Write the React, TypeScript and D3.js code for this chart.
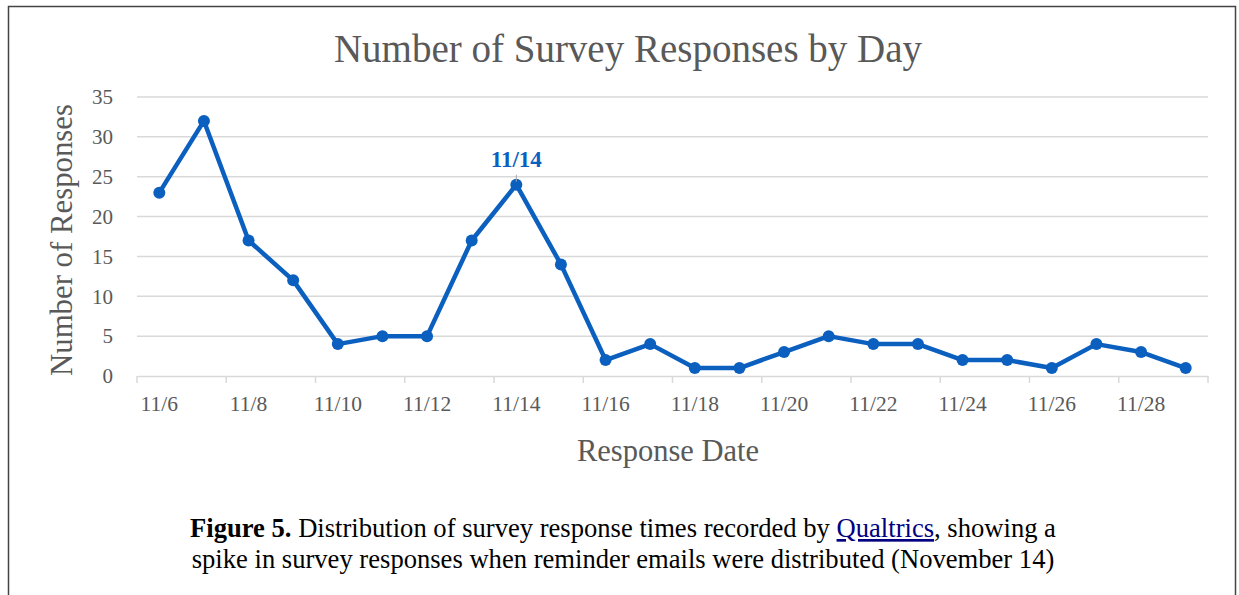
import React, { useEffect, useRef } from 'react';
import * as d3 from 'd3';

const days = [
    '11/6', '11/7', '11/8', '11/9', '11/10', '11/11', '11/12', '11/13',
    '11/14', '11/15', '11/16', '11/17', '11/18', '11/19', '11/20', '11/21',
    '11/22', '11/23', '11/24', '11/25', '11/26', '11/27', '11/28', '11/29',
];
const responses = [23, 32, 17, 12, 4, 5, 5, 17, 24, 14, 2, 4, 1, 1, 3, 5, 4, 4, 2, 2, 1, 4, 3, 1];
const yTicks = [0, 5, 10, 15, 20, 25, 30, 35];
const labelledDay = '11/14';

const W = 1239;
const H = 595;

const App: React.FC = () => {
    const svgRef = useRef<SVGSVGElement | null>(null);

    useEffect(() => {
        const svg = d3.select(svgRef.current);
        svg.selectAll('*').remove();
        const font = '"Liberation Serif", "Times New Roman", serif';
        const grey = '#595959';
        const blue = '#0a5fbf';

        const xScale = d3.scaleBand().domain(days).range([137, 1208]).padding(0);
        const yScale = d3.scaleLinear().domain([0, 35]).range([376, 97]);
        const cx = (d: string) => xScale(d)! + xScale.bandwidth() / 2;

        // frame
        svg.append('path')
            .attr('d', `M8.5,${H + 2} V6.5 H1235.5 V${H + 2}`)
            .attr('fill', 'none')
            .attr('stroke', '#444')
            .attr('stroke-width', 1.5);

        svg.append('text')
            .attr('x', 628)
            .attr('y', 62)
            .attr('text-anchor', 'middle')
            .style('font-family', font)
            .style('font-size', '39px')
            .attr('fill', grey)
            .text('Number of Survey Responses by Day');

        // gridlines
        svg.append('g')
            .selectAll('line')
            .data(yTicks.slice(1))
            .join('line')
            .attr('x1', 137)
            .attr('x2', 1208)
            .attr('y1', (d) => yScale(d))
            .attr('y2', (d) => yScale(d))
            .attr('stroke', '#d9d9d9')
            .attr('stroke-width', 1.5);

        // x axis
        const xAxis = d3.axisBottom(xScale)
            .tickSize(0)
            .tickValues(days.filter((_, i) => i % 2 === 0));
        const gx = svg.append('g')
            .attr('transform', `translate(0, ${yScale(0)})`)
            .call(xAxis);
        gx.select('.domain').attr('stroke', '#d9d9d9').attr('stroke-width', 1.5);
        gx.selectAll('.tick text')
            .attr('dy', 0)
            .attr('y', 35)
            .attr('fill', grey)
            .style('font-family', font)
            .style('font-size', '21.5px');
        const boundaries = days.filter((_, i) => i % 2 === 0).map((d) => xScale(d)!).concat([xScale.range()[1]]);
        gx.append('g')
            .selectAll('line')
            .data(boundaries)
            .join('line')
            .attr('x1', (d) => d)
            .attr('x2', (d) => d)
            .attr('y1', 0)
            .attr('y2', 7)
            .attr('stroke', '#d9d9d9')
            .attr('stroke-width', 1.5);

        // y axis labels
        const gy = svg.append('g')
            .attr('transform', 'translate(113, 0)')
            .call(d3.axisLeft(yScale).tickValues(yTicks).tickSize(0).tickPadding(0));
        gy.select('.domain').remove();
        gy.selectAll('.tick text')
            .attr('fill', grey)
            .style('font-family', font)
            .style('font-size', '21px');

        svg.append('text')
            .attr('transform', 'translate(72, 240) rotate(-90)')
            .attr('text-anchor', 'middle')
            .style('font-family', font)
            .style('font-size', '30.8px')
            .attr('fill', grey)
            .text('Number of Responses');

        svg.append('text')
            .attr('x', 668)
            .attr('y', 461)
            .attr('text-anchor', 'middle')
            .style('font-family', font)
            .style('font-size', '30.5px')
            .attr('fill', grey)
            .text('Response Date');

        // series
        const line = d3.line<number>()
            .x((_, i) => cx(days[i]))
            .y((d) => yScale(d));
        svg.append('path')
            .datum(responses)
            .attr('d', line)
            .attr('fill', 'none')
            .attr('stroke', blue)
            .attr('stroke-width', 4.5)
            .attr('stroke-linejoin', 'round');

        svg.append('g')
            .selectAll('circle')
            .data(responses)
            .join('circle')
            .attr('cx', (_, i) => cx(days[i]))
            .attr('cy', (d) => yScale(d))
            .attr('r', 6)
            .attr('fill', blue);

        // data label for the reminder day
        const li = days.indexOf(labelledDay);
        svg.append('line')
            .attr('x1', cx(labelledDay))
            .attr('x2', cx(labelledDay))
            .attr('y1', yScale(responses[li]) - 10)
            .attr('y2', yScale(responses[li]) - 3)
            .attr('stroke', '#a6a6a6')
            .attr('stroke-width', 1);
        svg.append('text')
            .attr('x', cx(labelledDay))
            .attr('y', yScale(responses[li]) - 18)
            .attr('text-anchor', 'middle')
            .style('font-family', font)
            .style('font-size', '23px')
            .style('font-weight', 'bold')
            .attr('fill', blue)
            .text(labelledDay);

        // caption
        const cap1 = svg.append('text')
            .attr('x', 623)
            .attr('y', 537)
            .attr('text-anchor', 'middle')
            .style('font-family', font)
            .style('font-size', '26.6px')
            .attr('fill', '#000');
        cap1.append('tspan').style('font-weight', 'bold').text('Figure 5.');
        cap1.append('tspan').text(' Distribution of survey response times recorded by ');
        cap1.append('tspan').attr('fill', '#000080').style('text-decoration', 'underline').text('Qualtrics');
        cap1.append('tspan').text(', showing a');

        svg.append('text')
            .attr('x', 623)
            .attr('y', 568)
            .attr('text-anchor', 'middle')
            .style('font-family', font)
            .style('font-size', '26.6px')
            .attr('fill', '#000')
            .text('spike in survey responses when reminder emails were distributed (November 14)');
    }, []);

    return (
        <svg
            ref={svgRef}
            width={W}
            height={H}
            style={{ position: 'absolute', left: 0, top: 0, background: '#fff' }}
        />
    );
};

export default App;
